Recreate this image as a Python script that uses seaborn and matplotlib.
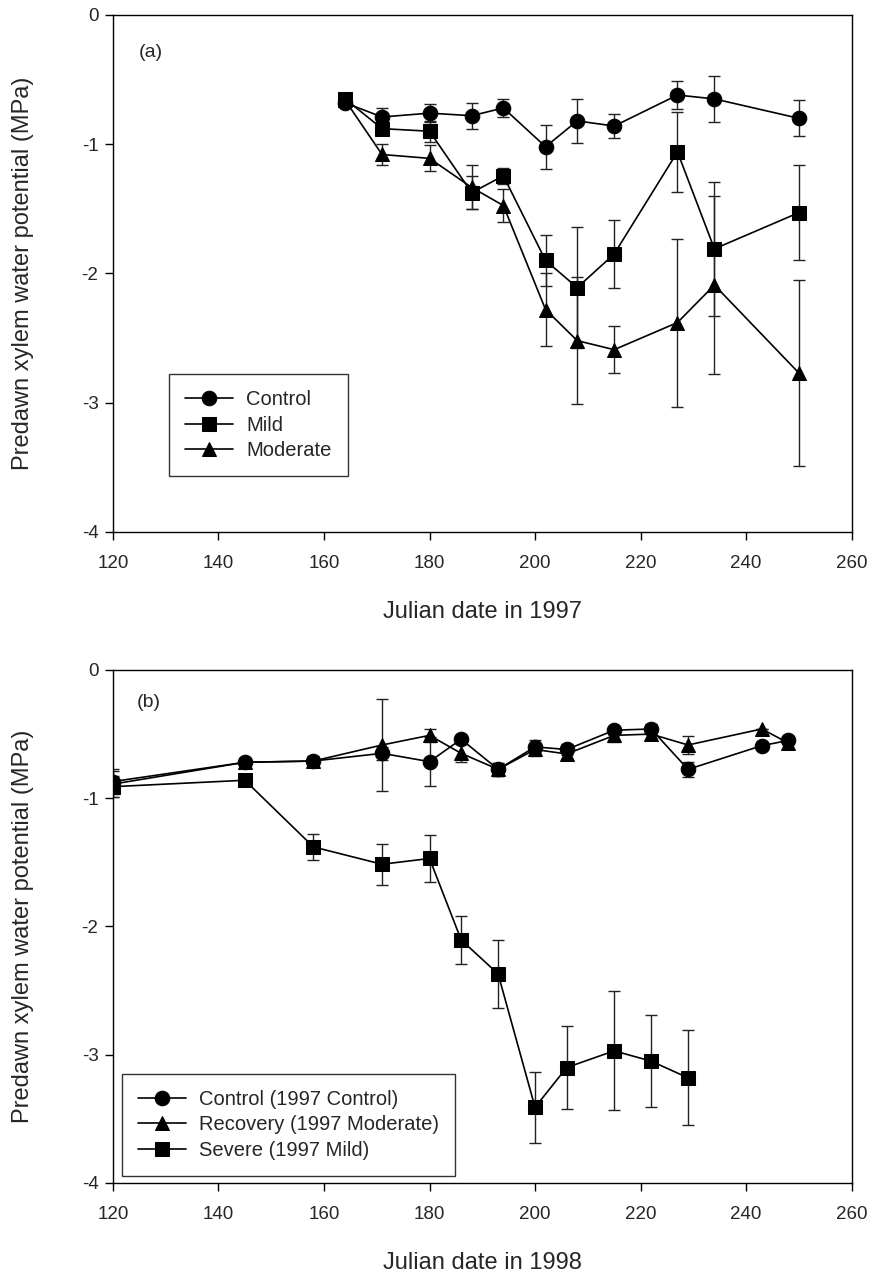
"""
Predawn xylem water potential, 1997 (a) and 1998 (b)
"""

import numpy as np
import pandas as pd
import seaborn as sns
import matplotlib.pyplot as plt

# %%
# 1997 data
days_97 = [164, 171, 180, 188, 194, 202, 208, 215, 227, 234, 250]
control_97 = [-0.68, -0.79, -0.76, -0.78, -0.72, -1.02, -0.82, -0.86, -0.62, -0.65, -0.80]
control_97_se = [0.03, 0.07, 0.07, 0.10, 0.07, 0.17, 0.17, 0.09, 0.11, 0.18, 0.14]
mild_97 = [-0.65, -0.88, -0.90, -1.375, -1.245, -1.90, -2.11, -1.85, -1.06, -1.81, -1.53]
mild_97_se = [0.04, 0.03, 0.08, 0.13, 0.06, 0.20, 0.47, 0.26, 0.31, 0.52, 0.37]
moderate_97 = [-0.66, -1.08, -1.11, -1.335, -1.475, -2.28, -2.52, -2.59, -2.38, -2.09, -2.77]
moderate_97_se = [0.03, 0.08, 0.10, 0.17, 0.13, 0.28, 0.49, 0.18, 0.65, 0.69, 0.72]

# 1998 data
days_98 = [120, 145, 158, 171, 180, 186, 193, 200, 206, 215, 222, 229, 243, 248]
control_98 = [-0.87, -0.72, -0.71, -0.65, -0.715, -0.54, -0.775, -0.60, -0.62, -0.47, -0.46, -0.775, -0.59, -0.55]
control_98_se = [0.10, 0.03, 0.03, 0.05, 0.19, 0.02, 0.05, 0.05, 0.04, 0.03, 0.04, 0.06, 0.0, 0.0]
recovery_98 = [-0.89, -0.72, -0.71, -0.585, -0.51, -0.65, -0.775, -0.62, -0.655, -0.51, -0.50, -0.585, -0.46, -0.57]
recovery_98_se = [0.10, 0.03, 0.04, 0.36, 0.05, 0.07, 0.05, 0.05, 0.04, 0.05, 0.04, 0.07, 0.0, 0.0]
days_98_severe = [120, 145, 158, 171, 180, 186, 193, 200, 206, 215, 222, 229]
severe_98 = [-0.91, -0.86, -1.38, -1.515, -1.47, -2.105, -2.37, -3.41, -3.10, -2.97, -3.05, -3.18]
severe_98_se = [0.08, 0.04, 0.10, 0.16, 0.18, 0.185, 0.265, 0.275, 0.325, 0.465, 0.36, 0.37]

# %%
sns.set_style("ticks")
plt.rcParams["font.family"] = ["Liberation Sans", "DejaVu Sans"]
plt.rcParams["axes.edgecolor"] = "black"
plt.rcParams["axes.linewidth"] = 1.0

fig = plt.figure(figsize=(8.71, 12.72), dpi=100)
ax_a = fig.add_axes([0.1297, 0.5818, 0.848, 0.4065])
ax_b = fig.add_axes([0.1297, 0.0700, 0.848, 0.4033])


def draw_series(ax, x, y, err, marker, label, ms):
    ax.errorbar(x, y, yerr=err, fmt="none", ecolor="#222222", elinewidth=1.0,
                capsize=4, capthick=1.0, zorder=1)
    df = pd.DataFrame({"x": x, "y": y})
    sns.lineplot(data=df, x="x", y="y", ax=ax, color="black", marker=marker,
                 markersize=ms, markeredgecolor="black", linewidth=1.2,
                 label=label, sort=False, zorder=2)


# panel (a)
draw_series(ax_a, days_97, control_97, control_97_se, "o", "Control", 10.5)
draw_series(ax_a, days_97, mild_97, mild_97_se, "s", "Mild", 9.5)
draw_series(ax_a, days_97, moderate_97, moderate_97_se, "^", "Moderate", 10.5)

# panel (b)
draw_series(ax_b, days_98, control_98, control_98_se, "o", "Control (1997 Control)", 10.5)
draw_series(ax_b, days_98, recovery_98, recovery_98_se, "^", "Recovery (1997 Moderate)", 10.5)
draw_series(ax_b, days_98_severe, severe_98, severe_98_se, "s", "Severe (1997 Mild)", 9.5)

for ax, year, tag, tag_pos in [(ax_a, 1997, "(a)", (0.035, 0.928)),
                               (ax_b, 1998, "(b)", (0.032, 0.936))]:
    ax.set_xlim(120, 260)
    ax.set_ylim(-4, 0)
    ax.set_xticks(np.arange(120, 261, 20))
    ax.set_yticks([-4, -3, -2, -1, 0])
    ax.set_yticklabels(["-4", "-3", "-2", "-1", "0"])
    ax.tick_params(labelsize=13.5, direction="out", length=6, width=1, color="black")
    ax.tick_params(axis="x", pad=10.5)
    ax.tick_params(axis="y", pad=4.5)
    ax.set_xlabel(f"Julian date in {year}", fontsize=17, labelpad=21)
    ax.set_ylabel("Predawn xylem water potential (MPa)", fontsize=17, labelpad=34)
    ax.text(tag_pos[0], tag_pos[1], tag, transform=ax.transAxes, fontsize=14,
            va="center", ha="left")
    for side in ["top", "right", "left", "bottom"]:
        ax.spines[side].set_visible(True)

leg_a = ax_a.legend(loc="lower left", bbox_to_anchor=(0.0758, 0.108), borderaxespad=0,
                    fontsize=14.5, frameon=True, fancybox=False, edgecolor="black",
                    handlelength=2.4, handletextpad=0.65, borderpad=0.8,
                    labelspacing=0.32)
leg_a.get_frame().set_linewidth(1.0)
leg_b = ax_b.legend(loc="lower left", bbox_to_anchor=(0.012, 0.014), borderaxespad=0,
                    fontsize=14.5, frameon=True, fancybox=False, edgecolor="black",
                    handlelength=2.4, handletextpad=0.65, borderpad=0.8,
                    labelspacing=0.32)
leg_b.get_frame().set_linewidth(1.0)

fig.savefig("out.png", dpi=100)
